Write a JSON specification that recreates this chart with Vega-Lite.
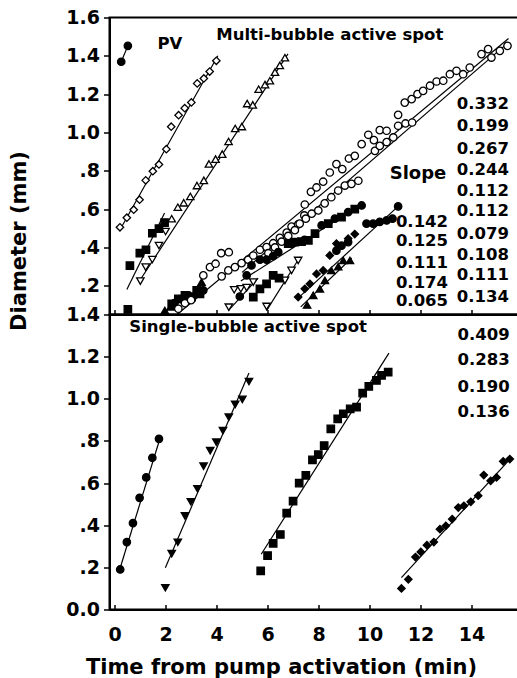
{
  "$schema": "https://vega.github.io/schema/vega-lite/v6.json",
  "padding": {"left": 7.5, "top": 7.5, "right": 0, "bottom": 0},
  "spacing": 0,
  "bounds": "flush",
  "config": {
    "font": "DejaVu Sans",
    "view": {"stroke": "black", "strokeWidth": 2},
    "axis": {"labelFont": "DejaVu Sans", "labelFontWeight": "bold", "labelColor": "black", "titleFont": "DejaVu Sans", "titleFontWeight": "bold", "titleColor": "black", "domainColor": "black", "tickColor": "black", "domainWidth": 2, "tickWidth": 1.5, "grid": false},
    "text": {"font": "DejaVu Sans", "fontWeight": "bold", "color": "black"}
  },
  "datasets": {
    "multi": [
      {"series": "PV", "marker": "filled circle", "t": 0.26, "d": 1.369},
      {"series": "PV", "marker": "filled circle", "t": 0.52, "d": 1.452},
      {"series": "D", "marker": "open diamond", "t": 0.21, "d": 0.505},
      {"series": "D", "marker": "open diamond", "t": 0.48, "d": 0.555},
      {"series": "D", "marker": "open diamond", "t": 0.75, "d": 0.597},
      {"series": "D", "marker": "open diamond", "t": 0.98, "d": 0.649},
      {"series": "D", "marker": "open diamond", "t": 1.22, "d": 0.75},
      {"series": "D", "marker": "open diamond", "t": 1.5, "d": 0.798},
      {"series": "D", "marker": "open diamond", "t": 1.74, "d": 0.833},
      {"series": "D", "marker": "open diamond", "t": 2.03, "d": 0.913},
      {"series": "D", "marker": "open diamond", "t": 2.22, "d": 1.03},
      {"series": "D", "marker": "open diamond", "t": 2.51, "d": 1.09},
      {"series": "D", "marker": "open diamond", "t": 2.75, "d": 1.127},
      {"series": "D", "marker": "open diamond", "t": 3.01, "d": 1.157},
      {"series": "D", "marker": "open diamond", "t": 3.24, "d": 1.256},
      {"series": "D", "marker": "open diamond", "t": 3.5, "d": 1.282},
      {"series": "D", "marker": "open diamond", "t": 3.73, "d": 1.318},
      {"series": "D", "marker": "open diamond", "t": 3.99, "d": 1.374},
      {"series": "T", "marker": "open triangle-down", "t": 1.01, "d": 0.224},
      {"series": "T", "marker": "open triangle-down", "t": 1.22, "d": 0.297},
      {"series": "T", "marker": "open triangle-down", "t": 1.48, "d": 0.337},
      {"series": "T", "marker": "open triangle-down", "t": 1.74, "d": 0.41},
      {"series": "T", "marker": "open triangle-down", "t": 2.0, "d": 0.483},
      {"series": "T", "marker": "open triangle-up", "t": 2.24, "d": 0.55},
      {"series": "T", "marker": "open triangle-up", "t": 2.48, "d": 0.61},
      {"series": "T", "marker": "open triangle-up", "t": 2.71, "d": 0.633},
      {"series": "T", "marker": "open triangle-up", "t": 2.97, "d": 0.666},
      {"series": "T", "marker": "open triangle-up", "t": 3.23, "d": 0.723},
      {"series": "T", "marker": "open triangle-up", "t": 3.5, "d": 0.75},
      {"series": "T", "marker": "open triangle-up", "t": 3.7, "d": 0.836},
      {"series": "T", "marker": "open triangle-up", "t": 3.96, "d": 0.861},
      {"series": "T", "marker": "open triangle-up", "t": 4.22, "d": 0.887},
      {"series": "T", "marker": "open triangle-up", "t": 4.47, "d": 0.953},
      {"series": "T", "marker": "open triangle-up", "t": 4.73, "d": 1.021},
      {"series": "T", "marker": "open triangle-up", "t": 4.99, "d": 1.031},
      {"series": "T", "marker": "open triangle-up", "t": 5.2, "d": 1.151},
      {"series": "T", "marker": "open triangle-up", "t": 5.42, "d": 1.144},
      {"series": "T", "marker": "open triangle-up", "t": 5.65, "d": 1.226},
      {"series": "T", "marker": "open triangle-up", "t": 5.9, "d": 1.25},
      {"series": "T", "marker": "open triangle-up", "t": 6.09, "d": 1.27},
      {"series": "T", "marker": "open triangle-up", "t": 6.29, "d": 1.315},
      {"series": "T", "marker": "open triangle-up", "t": 6.48, "d": 1.35},
      {"series": "T", "marker": "open triangle-up", "t": 6.68, "d": 1.39},
      {"series": "S1", "marker": "filled square", "t": 0.52, "d": 0.077},
      {"series": "S1", "marker": "filled square", "t": 0.6, "d": 0.305},
      {"series": "S1", "marker": "filled square", "t": 0.99, "d": 0.37},
      {"series": "S1", "marker": "filled square", "t": 1.23, "d": 0.388},
      {"series": "S1", "marker": "filled square", "t": 1.48, "d": 0.474},
      {"series": "S1", "marker": "filled square", "t": 1.74, "d": 0.498},
      {"series": "S1", "marker": "filled square", "t": 1.96, "d": 0.53},
      {"series": "E", "marker": "filled triangle-up", "t": 1.97, "d": 0.071},
      {"series": "E", "marker": "filled triangle-up", "t": 2.2, "d": 0.09},
      {"series": "E", "marker": "filled triangle-up", "t": 3.41, "d": 0.219},
      {"series": "E", "marker": "filled square", "t": 2.24, "d": 0.106},
      {"series": "E", "marker": "filled square", "t": 2.5, "d": 0.132},
      {"series": "E", "marker": "filled square", "t": 2.76, "d": 0.15},
      {"series": "E", "marker": "filled square", "t": 3.02, "d": 0.141},
      {"series": "E", "marker": "filled square", "t": 3.22, "d": 0.176},
      {"series": "E", "marker": "filled square", "t": 3.35, "d": 0.158},
      {"series": "E", "marker": "filled circle", "t": 2.35, "d": 0.11},
      {"series": "E", "marker": "filled circle", "t": 2.62, "d": 0.13},
      {"series": "E", "marker": "filled circle", "t": 2.9, "d": 0.15},
      {"series": "E", "marker": "filled circle", "t": 3.48, "d": 0.176},
      {"series": "OCA", "marker": "open circle", "t": 2.5, "d": 0.08},
      {"series": "OCA", "marker": "open circle", "t": 2.76, "d": 0.109},
      {"series": "OCA", "marker": "open circle", "t": 3.0, "d": 0.125},
      {"series": "OCA", "marker": "open circle", "t": 3.48, "d": 0.254},
      {"series": "OCA", "marker": "open circle", "t": 3.74, "d": 0.297},
      {"series": "OCA", "marker": "open circle", "t": 3.96, "d": 0.315},
      {"series": "OCA", "marker": "open circle", "t": 4.18, "d": 0.37},
      {"series": "OCA", "marker": "open circle", "t": 4.48, "d": 0.375},
      {"series": "OCA", "marker": "open circle", "t": 4.2, "d": 0.249},
      {"series": "OCA", "marker": "open circle", "t": 4.46, "d": 0.28},
      {"series": "OCA", "marker": "open circle", "t": 4.72, "d": 0.297},
      {"series": "OCA", "marker": "open circle", "t": 4.98, "d": 0.318},
      {"series": "OCA", "marker": "open circle", "t": 5.24, "d": 0.336},
      {"series": "OCA", "marker": "open circle", "t": 5.44, "d": 0.358},
      {"series": "OCA", "marker": "open circle", "t": 5.7, "d": 0.388},
      {"series": "OCA", "marker": "open circle", "t": 5.96, "d": 0.402},
      {"series": "OCA", "marker": "open circle", "t": 6.22, "d": 0.422},
      {"series": "OCA", "marker": "open circle", "t": 6.48, "d": 0.45},
      {"series": "OCA", "marker": "open circle", "t": 6.75, "d": 0.477},
      {"series": "OCA", "marker": "open circle", "t": 6.94, "d": 0.509},
      {"series": "OCA", "marker": "open circle", "t": 7.2, "d": 0.52},
      {"series": "OCA", "marker": "open circle", "t": 7.44, "d": 0.567},
      {"series": "OCA", "marker": "open circle", "t": 7.46, "d": 0.624},
      {"series": "OCA", "marker": "open circle", "t": 7.7, "d": 0.69},
      {"series": "OCA", "marker": "open circle", "t": 7.92, "d": 0.713},
      {"series": "OCA", "marker": "open circle", "t": 8.18, "d": 0.743},
      {"series": "OCA", "marker": "open circle", "t": 8.44, "d": 0.791},
      {"series": "OCA", "marker": "open circle", "t": 8.7, "d": 0.835},
      {"series": "OCA", "marker": "open circle", "t": 8.93, "d": 0.809},
      {"series": "OCA", "marker": "open circle", "t": 9.19, "d": 0.864},
      {"series": "OCA", "marker": "open circle", "t": 9.42, "d": 0.878},
      {"series": "OCA", "marker": "open circle", "t": 9.69, "d": 0.939},
      {"series": "OCA", "marker": "open circle", "t": 9.95, "d": 0.988},
      {"series": "OCA", "marker": "open circle", "t": 10.17, "d": 0.96},
      {"series": "OCA", "marker": "open circle", "t": 10.4, "d": 1.012},
      {"series": "OCA", "marker": "open circle", "t": 10.67, "d": 1.009},
      {"series": "OCA", "marker": "open circle", "t": 11.12, "d": 1.092},
      {"series": "OCA", "marker": "open circle", "t": 11.38, "d": 1.156},
      {"series": "OCA", "marker": "open circle", "t": 11.65, "d": 1.174},
      {"series": "OCA", "marker": "open circle", "t": 11.88, "d": 1.2},
      {"series": "OCA", "marker": "open circle", "t": 12.1, "d": 1.217},
      {"series": "OCA", "marker": "open circle", "t": 12.37, "d": 1.244},
      {"series": "OCA", "marker": "open circle", "t": 12.63, "d": 1.266},
      {"series": "OCA", "marker": "open circle", "t": 12.89, "d": 1.27},
      {"series": "OCA", "marker": "open circle", "t": 13.15, "d": 1.304},
      {"series": "OCA", "marker": "open circle", "t": 13.41, "d": 1.322},
      {"series": "OCA", "marker": "open circle", "t": 13.93, "d": 1.339},
      {"series": "OCA", "marker": "open circle", "t": 14.39, "d": 1.409},
      {"series": "OCA", "marker": "open circle", "t": 14.65, "d": 1.435},
      {"series": "OCB", "marker": "open circle", "t": 6.03, "d": 0.37},
      {"series": "OCB", "marker": "open circle", "t": 6.29, "d": 0.4},
      {"series": "OCB", "marker": "open circle", "t": 6.55, "d": 0.43},
      {"series": "OCB", "marker": "open circle", "t": 6.81, "d": 0.46},
      {"series": "OCB", "marker": "open circle", "t": 7.07, "d": 0.49},
      {"series": "OCB", "marker": "open circle", "t": 7.26, "d": 0.524},
      {"series": "OCB", "marker": "open circle", "t": 7.5, "d": 0.55},
      {"series": "OCB", "marker": "open circle", "t": 7.73, "d": 0.576},
      {"series": "OCB", "marker": "open circle", "t": 7.99, "d": 0.593},
      {"series": "OCB", "marker": "open circle", "t": 8.24, "d": 0.63},
      {"series": "OCB", "marker": "open circle", "t": 8.5, "d": 0.662},
      {"series": "OCB", "marker": "open circle", "t": 8.77, "d": 0.697},
      {"series": "OCB", "marker": "open circle", "t": 9.03, "d": 0.723},
      {"series": "OCB", "marker": "open circle", "t": 9.29, "d": 0.732},
      {"series": "OCB", "marker": "open circle", "t": 9.56, "d": 0.748},
      {"series": "OCB", "marker": "open circle", "t": 10.21, "d": 0.904},
      {"series": "OCB", "marker": "open circle", "t": 10.4, "d": 0.93},
      {"series": "OCB", "marker": "open circle", "t": 10.67, "d": 0.95},
      {"series": "OCB", "marker": "open circle", "t": 10.93, "d": 0.974},
      {"series": "OCB", "marker": "open circle", "t": 11.12, "d": 1.035},
      {"series": "OCB", "marker": "open circle", "t": 11.41, "d": 1.047},
      {"series": "OCB", "marker": "open circle", "t": 11.67, "d": 1.052},
      {"series": "OCB", "marker": "open circle", "t": 13.67, "d": 1.304},
      {"series": "OCB", "marker": "open circle", "t": 14.78, "d": 1.391},
      {"series": "OCB", "marker": "open circle", "t": 15.11, "d": 1.426},
      {"series": "OCB", "marker": "open circle", "t": 15.41, "d": 1.452},
      {"series": "TDa", "marker": "open triangle-down", "t": 4.48, "d": 0.088},
      {"series": "TDa", "marker": "open triangle-down", "t": 4.69, "d": 0.179},
      {"series": "TDa", "marker": "open triangle-down", "t": 4.95, "d": 0.184},
      {"series": "TDa", "marker": "open triangle-down", "t": 5.18, "d": 0.19},
      {"series": "TDa", "marker": "open triangle-down", "t": 5.44, "d": 0.219},
      {"series": "TDb", "marker": "open triangle-down", "t": 5.96, "d": 0.092},
      {"series": "TDb", "marker": "open triangle-down", "t": 6.68, "d": 0.228},
      {"series": "TDb", "marker": "open triangle-down", "t": 6.94, "d": 0.28},
      {"series": "TDb", "marker": "open triangle-down", "t": 7.2, "d": 0.332},
      {"series": "S3", "marker": "filled square", "t": 5.44, "d": 0.141},
      {"series": "S3", "marker": "filled square", "t": 5.7, "d": 0.184},
      {"series": "S3", "marker": "filled square", "t": 5.96, "d": 0.21},
      {"series": "S3", "marker": "filled square", "t": 6.22, "d": 0.254},
      {"series": "S3", "marker": "filled square", "t": 6.45, "d": 0.24},
      {"series": "S3", "marker": "filled square", "t": 6.81, "d": 0.42},
      {"series": "S3", "marker": "filled square", "t": 7.07, "d": 0.428},
      {"series": "S3", "marker": "filled square", "t": 7.33, "d": 0.43},
      {"series": "S3", "marker": "filled square", "t": 7.6, "d": 0.437},
      {"series": "S3", "marker": "filled square", "t": 7.86, "d": 0.472},
      {"series": "S3", "marker": "filled square", "t": 8.38, "d": 0.524},
      {"series": "S3", "marker": "filled square", "t": 8.9, "d": 0.558},
      {"series": "S3", "marker": "filled square", "t": 9.42, "d": 0.6},
      {"series": "FC2", "marker": "filled circle", "t": 4.91, "d": 0.144},
      {"series": "FC2", "marker": "filled circle", "t": 5.18, "d": 0.254},
      {"series": "FC2", "marker": "filled circle", "t": 5.37, "d": 0.306},
      {"series": "FC2", "marker": "filled circle", "t": 5.7, "d": 0.336},
      {"series": "FC2", "marker": "filled circle", "t": 5.96, "d": 0.336},
      {"series": "FC2", "marker": "filled circle", "t": 6.22, "d": 0.355},
      {"series": "FC2", "marker": "filled circle", "t": 6.42, "d": 0.376},
      {"series": "FC2", "marker": "filled circle", "t": 6.94, "d": 0.42},
      {"series": "FC2", "marker": "filled circle", "t": 7.45, "d": 0.44},
      {"series": "FC2", "marker": "filled circle", "t": 8.12, "d": 0.515},
      {"series": "FC2", "marker": "filled circle", "t": 8.64, "d": 0.55},
      {"series": "FC2", "marker": "filled circle", "t": 9.16, "d": 0.584},
      {"series": "FC2", "marker": "filled circle", "t": 9.69, "d": 0.619},
      {"series": "FD", "marker": "filled diamond", "t": 7.2, "d": 0.141},
      {"series": "FD", "marker": "filled diamond", "t": 7.46, "d": 0.184},
      {"series": "FD", "marker": "filled diamond", "t": 7.66, "d": 0.21},
      {"series": "FD", "marker": "filled diamond", "t": 7.92, "d": 0.262},
      {"series": "FD", "marker": "filled diamond", "t": 8.18, "d": 0.28},
      {"series": "FD", "marker": "filled diamond", "t": 8.44, "d": 0.358},
      {"series": "FD", "marker": "filled diamond", "t": 8.7, "d": 0.42},
      {"series": "FD", "marker": "filled diamond", "t": 9.16, "d": 0.446},
      {"series": "FD", "marker": "filled diamond", "t": 9.42, "d": 0.47},
      {"series": "FC3", "marker": "filled circle", "t": 8.7, "d": 0.383},
      {"series": "FC3", "marker": "filled circle", "t": 8.9, "d": 0.409},
      {"series": "FC3", "marker": "filled circle", "t": 9.16, "d": 0.428},
      {"series": "FC3", "marker": "filled circle", "t": 9.88, "d": 0.524},
      {"series": "FC3", "marker": "filled circle", "t": 10.14, "d": 0.524},
      {"series": "FC3", "marker": "filled circle", "t": 10.4, "d": 0.533},
      {"series": "FC3", "marker": "filled circle", "t": 10.67, "d": 0.541},
      {"series": "FC3", "marker": "filled circle", "t": 10.9, "d": 0.55},
      {"series": "FC3", "marker": "filled circle", "t": 11.12, "d": 0.614},
      {"series": "FT", "marker": "filled triangle-up", "t": 7.55, "d": 0.1},
      {"series": "FT", "marker": "filled triangle-up", "t": 7.79, "d": 0.15},
      {"series": "FT", "marker": "filled triangle-up", "t": 8.05, "d": 0.184},
      {"series": "FT", "marker": "filled triangle-up", "t": 8.25, "d": 0.228},
      {"series": "FT", "marker": "filled triangle-up", "t": 8.5, "d": 0.28},
      {"series": "FT", "marker": "filled triangle-up", "t": 8.77, "d": 0.3},
      {"series": "FT", "marker": "filled triangle-up", "t": 8.97, "d": 0.332},
      {"series": "FT", "marker": "filled triangle-up", "t": 9.23, "d": 0.332}
    ],
    "multiFits": [
      {"series": "PV", "t": 0.26, "d": 1.369, "t2": 0.52, "d2": 1.452},
      {"series": "D", "t": 0.2, "d": 0.49, "t2": 4.05, "d2": 1.4},
      {"series": "T", "t": 1.0, "d": 0.23, "t2": 6.8, "d2": 1.41},
      {"series": "S1", "t": 0.48, "d": 0.18, "t2": 1.96, "d2": 0.58},
      {"series": "E", "t": 1.95, "d": 0.065, "t2": 3.5, "d2": 0.2},
      {"series": "OCA", "t": 2.45, "d": 0.05, "t2": 15.45, "d2": 1.49},
      {"series": "OCB", "t": 5.0, "d": 0.27, "t2": 15.45, "d2": 1.47},
      {"series": "TDa", "t": 4.46, "d": 0.07, "t2": 5.63, "d2": 0.24},
      {"series": "TDb", "t": 5.96, "d": 0.07, "t2": 7.27, "d2": 0.35},
      {"series": "FC2", "t": 4.95, "d": 0.225, "t2": 9.75, "d2": 0.63},
      {"series": "FD", "t": 7.15, "d": 0.13, "t2": 11.12, "d2": 0.614},
      {"series": "FT", "t": 7.3, "d": 0.09, "t2": 9.3, "d2": 0.345}
    ],
    "multiText": [
      {"label": "PV", "role": "head", "t": 2.17, "d": 1.463},
      {"label": "Multi-bubble active spot", "role": "head", "t": 8.44, "d": 1.511},
      {"label": "Slope", "role": "word", "t": 11.9, "d": 0.784},
      {"label": "0.332", "role": "slope", "t": 15.47, "d": 1.15},
      {"label": "0.199", "role": "slope", "t": 15.47, "d": 1.034},
      {"label": "0.267", "role": "slope", "t": 15.47, "d": 0.915},
      {"label": "0.244", "role": "slope", "t": 15.47, "d": 0.802},
      {"label": "0.112", "role": "slope", "t": 15.47, "d": 0.697},
      {"label": "0.112", "role": "slope", "t": 15.47, "d": 0.588},
      {"label": "0.079", "role": "slope", "t": 15.47, "d": 0.471},
      {"label": "0.108", "role": "slope", "t": 15.47, "d": 0.363},
      {"label": "0.111", "role": "slope", "t": 15.47, "d": 0.254},
      {"label": "0.134", "role": "slope", "t": 15.47, "d": 0.143},
      {"label": "0.142", "role": "slope", "t": 13.08, "d": 0.532},
      {"label": "0.125", "role": "slope", "t": 13.08, "d": 0.432},
      {"label": "0.111", "role": "slope", "t": 13.08, "d": 0.319},
      {"label": "0.174", "role": "slope", "t": 13.08, "d": 0.215},
      {"label": "0.065", "role": "slope", "t": 13.08, "d": 0.119}
    ],
    "single": [
      {"series": "C", "marker": "filled circle", "t": 0.22, "d": 0.19},
      {"series": "C", "marker": "filled circle", "t": 0.48, "d": 0.32},
      {"series": "C", "marker": "filled circle", "t": 0.72, "d": 0.41},
      {"series": "C", "marker": "filled circle", "t": 0.98, "d": 0.53},
      {"series": "C", "marker": "filled circle", "t": 1.24, "d": 0.627},
      {"series": "C", "marker": "filled circle", "t": 1.48, "d": 0.72},
      {"series": "C", "marker": "filled circle", "t": 1.74, "d": 0.81},
      {"series": "V", "marker": "filled triangle-down", "t": 1.99, "d": 0.103},
      {"series": "V", "marker": "filled triangle-down", "t": 2.24, "d": 0.265},
      {"series": "V", "marker": "filled triangle-down", "t": 2.48, "d": 0.319},
      {"series": "V", "marker": "filled triangle-down", "t": 2.76, "d": 0.444},
      {"series": "V", "marker": "filled triangle-down", "t": 2.99, "d": 0.511},
      {"series": "V", "marker": "filled triangle-down", "t": 3.25, "d": 0.573},
      {"series": "V", "marker": "filled triangle-down", "t": 3.49, "d": 0.68},
      {"series": "V", "marker": "filled triangle-down", "t": 3.75, "d": 0.754},
      {"series": "V", "marker": "filled triangle-down", "t": 3.99, "d": 0.794},
      {"series": "V", "marker": "filled triangle-down", "t": 4.25, "d": 0.849},
      {"series": "V", "marker": "filled triangle-down", "t": 4.48, "d": 0.913},
      {"series": "V", "marker": "filled triangle-down", "t": 4.73, "d": 0.973},
      {"series": "V", "marker": "filled triangle-down", "t": 5.01, "d": 0.997},
      {"series": "V", "marker": "filled triangle-down", "t": 5.27, "d": 1.082},
      {"series": "Q", "marker": "filled square", "t": 5.73, "d": 0.183},
      {"series": "Q", "marker": "filled square", "t": 6.0, "d": 0.256},
      {"series": "Q", "marker": "filled square", "t": 6.22, "d": 0.314},
      {"series": "Q", "marker": "filled square", "t": 6.5, "d": 0.356},
      {"series": "Q", "marker": "filled square", "t": 6.75, "d": 0.457},
      {"series": "Q", "marker": "filled square", "t": 7.0, "d": 0.514},
      {"series": "Q", "marker": "filled square", "t": 7.24, "d": 0.6},
      {"series": "Q", "marker": "filled square", "t": 7.5, "d": 0.637},
      {"series": "Q", "marker": "filled square", "t": 7.76, "d": 0.71},
      {"series": "Q", "marker": "filled square", "t": 7.99, "d": 0.735},
      {"series": "Q", "marker": "filled square", "t": 8.22, "d": 0.778},
      {"series": "Q", "marker": "filled square", "t": 8.48, "d": 0.857},
      {"series": "Q", "marker": "filled square", "t": 8.75, "d": 0.905},
      {"series": "Q", "marker": "filled square", "t": 8.97, "d": 0.929},
      {"series": "Q", "marker": "filled square", "t": 9.24, "d": 0.952},
      {"series": "Q", "marker": "filled square", "t": 9.49, "d": 0.96},
      {"series": "Q", "marker": "filled square", "t": 9.73, "d": 1.027},
      {"series": "Q", "marker": "filled square", "t": 9.97, "d": 1.059},
      {"series": "Q", "marker": "filled square", "t": 10.27, "d": 1.087},
      {"series": "Q", "marker": "filled square", "t": 10.47, "d": 1.111},
      {"series": "Q", "marker": "filled square", "t": 10.73, "d": 1.127},
      {"series": "R", "marker": "filled diamond", "t": 11.25, "d": 0.1},
      {"series": "R", "marker": "filled diamond", "t": 11.52, "d": 0.143},
      {"series": "R", "marker": "filled diamond", "t": 11.8, "d": 0.249},
      {"series": "R", "marker": "filled diamond", "t": 12.01, "d": 0.273},
      {"series": "R", "marker": "filled diamond", "t": 12.25, "d": 0.305},
      {"series": "R", "marker": "filled diamond", "t": 12.52, "d": 0.32},
      {"series": "R", "marker": "filled diamond", "t": 12.76, "d": 0.381},
      {"series": "R", "marker": "filled diamond", "t": 12.99, "d": 0.397},
      {"series": "R", "marker": "filled diamond", "t": 13.24, "d": 0.429},
      {"series": "R", "marker": "filled diamond", "t": 13.48, "d": 0.484},
      {"series": "R", "marker": "filled diamond", "t": 13.7, "d": 0.492},
      {"series": "R", "marker": "filled diamond", "t": 13.97, "d": 0.511},
      {"series": "R", "marker": "filled diamond", "t": 14.26, "d": 0.54},
      {"series": "R", "marker": "filled diamond", "t": 14.48, "d": 0.638},
      {"series": "R", "marker": "filled diamond", "t": 14.75, "d": 0.611},
      {"series": "R", "marker": "filled diamond", "t": 14.98, "d": 0.627},
      {"series": "R", "marker": "filled diamond", "t": 15.24, "d": 0.703},
      {"series": "R", "marker": "filled diamond", "t": 15.5, "d": 0.714}
    ],
    "singleFits": [
      {"series": "C", "t": 0.2, "d": 0.19, "t2": 1.8, "d2": 0.82},
      {"series": "V", "t": 1.99, "d": 0.198, "t2": 5.27, "d2": 1.122},
      {"series": "Q", "t": 5.75, "d": 0.262, "t2": 10.76, "d2": 1.217},
      {"series": "R", "t": 11.25, "d": 0.151, "t2": 15.57, "d2": 0.722}
    ],
    "singleText": [
      {"label": "Single-bubble active spot", "role": "head", "t": 5.235, "d": 1.343},
      {"label": "0.409", "role": "slope", "t": 15.5, "d": 1.305},
      {"label": "0.283", "role": "slope", "t": 15.5, "d": 1.183},
      {"label": "0.190", "role": "slope", "t": 15.5, "d": 1.056},
      {"label": "0.136", "role": "slope", "t": 15.5, "d": 0.935}
    ]
  },
  "vconcat": [
    {
      "width": 411,
      "height": 297,
      "encoding": {
        "x": {"field": "t", "type": "quantitative", "scale": {"domain": [-0.2, 15.92], "nice": false, "zero": false},
              "axis": {"values": [0, 2, 4, 6, 8, 10, 12, 14], "labels": false, "tickSize": -5, "title": null}},
        "y": {"field": "d", "type": "quantitative", "scale": {"domain": [0.05, 1.6], "nice": false, "zero": false},
              "axis": {"values": [0.2, 0.4, 0.6, 0.8, 1.0, 1.2, 1.4, 1.6],
                       "labelExpr": "datum.value < 0.05 ? '0.0' : datum.value < 0.99 ? replace(format(datum.value, '.1f'), '0.', '.') : format(datum.value, '.1f')",
                       "labelFontSize": 19, "tickSize": 6, "labelPadding": 4,
                       "title": "Diameter (mm)", "titleFontSize": 21, "titleX": -90, "titleY": 223, "titleAlign": "center", "titleBaseline": "middle", "titleAngle": 270}}
      },
      "layer": [
        {"data": {"name": "multiFits"}, "mark": {"type": "rule", "color": "black", "strokeWidth": 1.2},
         "encoding": {"x2": {"field": "t2"}, "y2": {"field": "d2"}}},
        {"data": {"name": "multi"}, "mark": {"type": "point", "filled": true, "stroke": "black", "strokeWidth": 1.3, "opacity": 1, "size": 55},
         "encoding": {
           "shape": {"field": "marker", "type": "nominal", "legend": null,
                     "scale": {"domain": ["filled circle", "open circle", "filled square", "open diamond", "filled diamond", "open triangle-up", "open triangle-down", "filled triangle-up", "filled triangle-down"],
                               "range": ["circle", "circle", "square", "diamond", "diamond", "triangle-up", "triangle-down", "triangle-up", "triangle-down"]}},
           "fill": {"field": "marker", "type": "nominal", "legend": null,
                    "scale": {"domain": ["filled circle", "open circle", "filled square", "open diamond", "filled diamond", "open triangle-up", "open triangle-down", "filled triangle-up", "filled triangle-down"],
                              "range": ["black", "white", "black", "white", "black", "white", "white", "black", "black"]}}
         }},
        {"data": {"name": "multiText"}, "transform": [{"filter": "datum.role == 'head'"}],
         "mark": {"type": "text", "fontSize": 16.5, "align": "center", "baseline": "middle"},
         "encoding": {"text": {"field": "label"}}},
        {"data": {"name": "multiText"}, "transform": [{"filter": "datum.role == 'word'"}],
         "mark": {"type": "text", "fontSize": 18, "align": "center", "baseline": "middle"},
         "encoding": {"text": {"field": "label"}}},
        {"data": {"name": "multiText"}, "transform": [{"filter": "datum.role == 'slope'"}],
         "mark": {"type": "text", "fontSize": 16.5, "align": "right", "baseline": "middle"},
         "encoding": {"text": {"field": "label"}}}
      ]
    },
    {
      "width": 411,
      "height": 295,
      "encoding": {
        "x": {"field": "t", "type": "quantitative", "scale": {"domain": [-0.2, 15.92], "nice": false, "zero": false},
              "axis": {"values": [0, 2, 4, 6, 8, 10, 12, 14], "labelFontSize": 19, "tickSize": -5, "labelPadding": 21,
                       "title": "Time from pump activation (min)", "titleFontSize": 21, "titleX": 171.5, "titleY": 64, "titleAlign": "center", "titleBaseline": "alphabetic"}},
        "y": {"field": "d", "type": "quantitative", "scale": {"domain": [0, 1.4], "nice": false, "zero": false},
              "axis": {"values": [0, 0.2, 0.4, 0.6, 0.8, 1.0, 1.2, 1.4],
                       "labelExpr": "datum.value < 0.05 ? '0.0' : datum.value < 0.99 ? replace(format(datum.value, '.1f'), '0.', '.') : format(datum.value, '.1f')",
                       "labelFontSize": 19, "tickSize": 6, "labelPadding": 4, "title": null}}
      },
      "layer": [
        {"data": {"name": "singleFits"}, "mark": {"type": "rule", "color": "black", "strokeWidth": 1.2},
         "encoding": {"x2": {"field": "t2"}, "y2": {"field": "d2"}}},
        {"data": {"name": "single"}, "mark": {"type": "point", "filled": true, "stroke": "black", "strokeWidth": 1.3, "opacity": 1, "size": 55},
         "encoding": {
           "shape": {"field": "marker", "type": "nominal", "legend": null,
                     "scale": {"domain": ["filled circle", "open circle", "filled square", "open diamond", "filled diamond", "open triangle-up", "open triangle-down", "filled triangle-up", "filled triangle-down"],
                               "range": ["circle", "circle", "square", "diamond", "diamond", "triangle-up", "triangle-down", "triangle-up", "triangle-down"]}},
           "fill": {"field": "marker", "type": "nominal", "legend": null,
                    "scale": {"domain": ["filled circle", "open circle", "filled square", "open diamond", "filled diamond", "open triangle-up", "open triangle-down", "filled triangle-up", "filled triangle-down"],
                              "range": ["black", "white", "black", "white", "black", "white", "white", "black", "black"]}}
         }},
        {"data": {"name": "singleText"}, "transform": [{"filter": "datum.role == 'head'"}],
         "mark": {"type": "text", "fontSize": 16.5, "align": "center", "baseline": "middle"},
         "encoding": {"text": {"field": "label"}}},
        {"data": {"name": "singleText"}, "transform": [{"filter": "datum.role == 'slope'"}],
         "mark": {"type": "text", "fontSize": 16.5, "align": "right", "baseline": "middle"},
         "encoding": {"text": {"field": "label"}}}
      ]
    }
  ]
}
